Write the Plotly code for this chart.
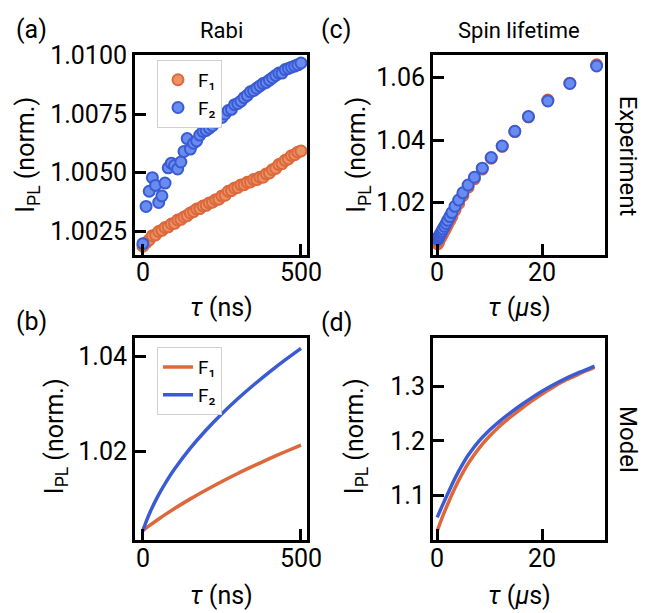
import plotly.graph_objects as go

# ---------------- data ----------------
# (a) Rabi experiment
rabi_t = [0, 10, 20, 30, 40, 50, 60, 70, 80, 90, 100, 110, 120, 130, 140, 150, 160, 170, 180, 190,
          200, 210, 220, 230, 240, 250, 260, 270, 280, 290, 300, 310, 320, 330, 340, 350, 360, 370,
          380, 390, 400, 410, 420, 430, 440, 450, 460, 470, 480, 490, 500]
rabi_f1 = [1.00185, 1.00200, 1.00212, 1.00230, 1.00233, 1.00248, 1.00253, 1.00265, 1.00268, 1.00280,
           1.00283, 1.00297, 1.00300, 1.00310, 1.00316, 1.00327, 1.00333, 1.00344, 1.00346, 1.00357,
           1.00360, 1.00370, 1.00373, 1.00384, 1.00386, 1.00400, 1.00403, 1.00420, 1.00423, 1.00434,
           1.00436, 1.00447, 1.00448, 1.00458, 1.00460, 1.00470, 1.00470, 1.00480, 1.00480, 1.00494,
           1.00498, 1.00512, 1.00518, 1.00534, 1.00538, 1.00552, 1.00558, 1.00572, 1.00576, 1.00587,
           1.00592]
rabi_f2 = [1.00196, 1.00355, 1.00420, 1.00478, 1.00445, 1.00372, 1.00400, 1.00455, 1.00520, 1.00540,
           1.00530, 1.00515, 1.00545, 1.00590, 1.00645, 1.00600, 1.00625, 1.00635, 1.00660, 1.00675,
           1.00680, 1.00690, 1.00700, 1.00715, 1.00740, 1.00735, 1.00750, 1.00765, 1.00770, 1.00790,
           1.00795, 1.00805, 1.00820, 1.00830, 1.00845, 1.00850, 1.00860, 1.00870, 1.00880, 1.00885,
           1.00895, 1.00905, 1.00915, 1.00925, 1.00925, 1.00940, 1.00945, 1.00950, 1.00955, 1.00960,
           1.00968]

# (c) Spin lifetime experiment (µs)
spin_t = [0.1, 0.2, 0.3, 0.4, 0.5, 0.7, 0.9, 1.1, 1.4, 1.7, 2.0, 2.4, 2.8, 3.4, 4.1, 4.9, 5.9, 7.1,
          8.6, 10.3, 12.4, 14.8, 17.4, 21.1, 25.3, 30.4]
spin_f1 = [1.0068, 1.0072, 1.0076, 1.0080, 1.0083, 1.0089, 1.0095, 1.0102, 1.0111, 1.0120, 1.0130,
           1.0142, 1.0155, 1.0176, 1.0197, 1.0222, 1.0249, 1.0276, 1.0307, 1.0342, 1.0380, 1.0427,
           1.0474, 1.0528, 1.0582, 1.0641]
spin_f2 = [1.0082, 1.0086, 1.0089, 1.0093, 1.0096, 1.0102, 1.0108, 1.0115, 1.0124, 1.0133, 1.0143,
           1.0155, 1.0168, 1.0188, 1.0208, 1.0231, 1.0256, 1.0281, 1.0310, 1.0344, 1.0381, 1.0428,
           1.0475, 1.0525, 1.0581, 1.0637]

# (b) Rabi model
mrabi_t = [0, 5, 10, 25, 50, 75, 100, 150, 200, 250, 300, 350, 400, 450, 500]
mrabi_f1 = [1.00350, 1.00376, 1.00401, 1.00475, 1.00593, 1.00705, 1.00812, 1.01014, 1.01201,
            1.01378, 1.01545, 1.01703, 1.01855, 1.02000, 1.02140]
mrabi_f2 = [1.00350, 1.00445, 1.00534, 1.00771, 1.01103, 1.01386, 1.01637, 1.02075, 1.02455,
            1.02795, 1.03107, 1.03395, 1.03665, 1.03920, 1.04162]

# (d) Spin lifetime model
mspin_t = [0, 0.5, 1, 2, 3, 4, 5, 6, 8, 10, 12, 14, 16, 18, 20, 22, 24, 26, 28, 30]
mspin_f1 = [1.035, 1.048, 1.061, 1.084, 1.106, 1.126, 1.144, 1.160, 1.187, 1.209, 1.228, 1.244,
            1.259, 1.273, 1.286, 1.298, 1.309, 1.318, 1.327, 1.335]
mspin_f2 = [1.060, 1.071, 1.082, 1.103, 1.124, 1.143, 1.160, 1.175, 1.200, 1.220, 1.237, 1.252,
            1.266, 1.279, 1.291, 1.302, 1.312, 1.321, 1.329, 1.337]

# tick labels
a_yticks = [1.0025, 1.0050, 1.0075, 1.0100]
a_yticktext = ["1.0025", "1.0050", "1.0075", "1.0100"]
c_yticks = [1.02, 1.04, 1.06]
c_yticktext = ["1.02", "1.04", "1.06"]
b_yticks = [1.02, 1.04]
b_yticktext = ["1.02", "1.04"]
d_yticks = [1.1, 1.2, 1.3]
d_yticktext = ["1.1", "1.2", "1.3"]
ns_xticks = [0, 500]
ns_xticktext = ["0", "500"]
us_xticks = [0, 20]
us_xticktext = ["0", "20"]
series_names = ["F₁", "F₂"]

# ---------------- style ----------------
W, H = 657, 613
FONT = "Roboto"
ORANGE = "rgb(221,104,60)"
ORANGE_FILL = "rgb(234,146,100)"
BLUE = "rgb(58,91,212)"
BLUE_FILL = "rgb(105,140,240)"
TICK_FS = 25
TITLE_FS = 25


def dx(a, b):
    return [a / W, b / W]


def dy(top, bottom):
    return [1 - bottom / H, 1 - top / H]


fig = go.Figure()

fig.add_trace(go.Scatter(x=rabi_t, y=rabi_f1, mode="markers", name=series_names[0],
                         marker=dict(color=ORANGE_FILL, size=11, line=dict(width=2, color=ORANGE)),
                         xaxis="x", yaxis="y", legend="legend"))
fig.add_trace(go.Scatter(x=rabi_t, y=rabi_f2, mode="markers", name=series_names[1],
                         marker=dict(color=BLUE_FILL, size=11, line=dict(width=2, color=BLUE)),
                         xaxis="x", yaxis="y", legend="legend"))
fig.add_trace(go.Scatter(x=spin_t, y=spin_f1, mode="markers", showlegend=False,
                         marker=dict(color=ORANGE_FILL, size=11, line=dict(width=2, color=ORANGE)),
                         xaxis="x2", yaxis="y2"))
fig.add_trace(go.Scatter(x=spin_t, y=spin_f2, mode="markers", showlegend=False,
                         marker=dict(color=BLUE_FILL, size=11, line=dict(width=2, color=BLUE)),
                         xaxis="x2", yaxis="y2"))
fig.add_trace(go.Scatter(x=mrabi_t, y=mrabi_f1, mode="lines", name=series_names[0],
                         line=dict(color=ORANGE, width=3.5, shape="spline", smoothing=0.8),
                         xaxis="x3", yaxis="y3", legend="legend2"))
fig.add_trace(go.Scatter(x=mrabi_t, y=mrabi_f2, mode="lines", name=series_names[1],
                         line=dict(color=BLUE, width=3.5, shape="spline", smoothing=0.8),
                         xaxis="x3", yaxis="y3", legend="legend2"))
fig.add_trace(go.Scatter(x=mspin_t, y=mspin_f1, mode="lines", showlegend=False,
                         line=dict(color=ORANGE, width=3.5, shape="spline", smoothing=0.8),
                         xaxis="x4", yaxis="y4"))
fig.add_trace(go.Scatter(x=mspin_t, y=mspin_f2, mode="lines", showlegend=False,
                         line=dict(color=BLUE, width=3.5, shape="spline", smoothing=0.8),
                         xaxis="x4", yaxis="y4"))

ax = dict(showline=True, linecolor="black", linewidth=3, mirror=True, ticks="inside",
          ticklen=11, tickwidth=2.5, tickcolor="black", showgrid=False, zeroline=False,
          tickfont=dict(family=FONT, size=TICK_FS, color="black"))
axx = dict(ax, showticklabels=False)

L = dx(135, 307)
R = dx(433, 605)
T = dy(42, 247)
B = dy(332, 538)

leg = dict(xanchor="left", yanchor="top", bgcolor="white", bordercolor="#d0d0d0", borderwidth=1,
           font=dict(family=FONT, size=19, color="black"), tracegroupgap=0, itemwidth=30)

fig.update_layout(
    width=W, height=H, margin=dict(l=0, r=0, t=0, b=0),
    paper_bgcolor="white", plot_bgcolor="white",
    font=dict(family=FONT, color="black"),
    xaxis=dict(axx, domain=L, range=[-25, 519], tickvals=ns_xticks, anchor="y"),
    yaxis=dict(ax, domain=T, range=[1.00146, 1.01002], tickvals=a_yticks, ticktext=a_yticktext, anchor="x"),
    xaxis2=dict(axx, domain=R, range=[-0.8, 32], tickvals=us_xticks, anchor="y2"),
    yaxis2=dict(ax, domain=T, range=[1.0031, 1.0672], tickvals=c_yticks, ticktext=c_yticktext, anchor="x2"),
    xaxis3=dict(axx, domain=L, range=[-25, 519], tickvals=ns_xticks, anchor="y3"),
    yaxis3=dict(ax, domain=B, range=[1.0016, 1.0437], tickvals=b_yticks, ticktext=b_yticktext, anchor="x3"),
    xaxis4=dict(axx, domain=R, range=[-0.8, 32], tickvals=us_xticks, anchor="y4"),
    yaxis4=dict(ax, domain=B, range=[1.019, 1.388], tickvals=d_yticks, ticktext=d_yticktext, anchor="x4"),
    legend=dict(leg, x=157 / W, y=1 - 47 / H),
    legend2=dict(leg, x=157 / W, y=1 - 341 / H),
)

annots = []


def txt(x, y, s, size=TITLE_FS, angle=0):
    annots.append(dict(x=x / W, y=1 - y / H, xref="paper", yref="paper", text=s, showarrow=False,
                       xanchor="center", yanchor="middle", textangle=angle,
                       font=dict(family=FONT, size=size, color="black")))


# x tick labels placed at the axis data positions
def xticklabels(axref, vals, texts, ypix):
    for v, t in zip(vals, texts):
        annots.append(dict(x=v, y=1 - ypix / H, xref=axref, yref="paper", text=t, showarrow=False,
                           xanchor="center", yanchor="middle",
                           font=dict(family=FONT, size=TICK_FS, color="black")))


xticklabels("x", ns_xticks, ns_xticktext, 265)
xticklabels("x2", us_xticks, us_xticktext, 265)
xticklabels("x3", ns_xticks, ns_xticktext, 557)
xticklabels("x4", us_xticks, us_xticktext, 557)

txt(31, 16, "(a)", 25)
txt(336, 16, "(c)", 25)
txt(31, 315, "(b)", 25)
txt(336, 316, "(d)", 25)
txt(221, 17, "Rabi", 22)
txt(519, 17, "Spin lifetime", 22)
txt(628, 145, "Experiment", 24, 90)
txt(628, 435, "Model", 24, 90)
ylab = "I<sub>PL</sub> (norm.)"
txt(27, 144, ylab, TITLE_FS, -90)
txt(56, 432, ylab, TITLE_FS, -90)
txt(358, 144, ylab, TITLE_FS, -90)
txt(356, 432, ylab, TITLE_FS, -90)
txt(221, 300, "<i>τ</i> (ns)", TITLE_FS)
txt(519, 300, "<i>τ</i> (<i>μ</i>s)", TITLE_FS)
txt(221, 595, "<i>τ</i> (ns)", TITLE_FS)
txt(519, 595, "<i>τ</i> (<i>μ</i>s)", TITLE_FS)
fig.update_layout(annotations=annots)

fig.write_html("out.html")
